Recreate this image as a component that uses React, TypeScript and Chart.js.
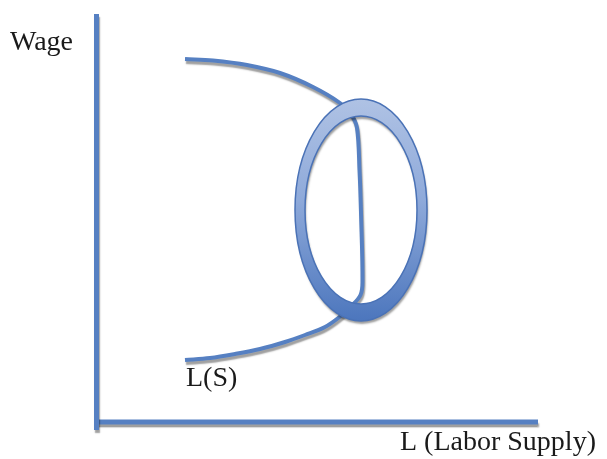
import React, { useEffect, useRef } from "react";
import { Chart, registerables } from "chart.js";

Chart.register(...registerables);

// Data space: origin at the axes' corner, x = labor supply, y = wage (same units as the picture)
const X_RANGE = [-96.5, 510.5];
const Y_RANGE = [-37, 422];

const wageAxis = [
  { x: 0, y: -8 },
  { x: 0, y: 408 },
];
const laborAxis = [
  { x: -2.5, y: 0 },
  { x: 441.5, y: 0 },
];

// backward-bending labor supply curve L(S)
const supplyX = [88.5, 116.5, 150.5, 183.5, 216.5, 243.5, 255, 260.5, 263, 264.5, 266, 264, 255, 243, 228.5, 208.5, 188.5, 163.5, 138.5, 113.5, 88.5];
const supplyY = [363, 361.5, 357, 349, 335, 319, 307, 294, 252, 209, 140, 127, 116, 105, 95, 87, 80, 73, 68, 64, 62];

// highlighted ring: center, outer radii, inner radii
const ringCenter = [264.5, 212];
const ringOuter = [66, 111];
const ringInner = [56, 94];

const labelTexts = ["Wage", "L(S)", "L (Labor Supply)"];
const labelX = [-86.5, 89.5, 303.5];
const labelY = [372, 36, -28];
const labelSizes = [28, 28, 28];

const BLUE = "#5680C2";

const shadowPlugin = {
  id: "shadows",
  beforeDatasetDraw(chart: any) {
    const ctx = chart.ctx;
    ctx.save();
    ctx.shadowColor = "rgba(0,0,0,0.38)";
    ctx.shadowBlur = 1.5;
    ctx.shadowOffsetX = 1;
    ctx.shadowOffsetY = 3;
  },
  afterDatasetDraw(chart: any) {
    chart.ctx.restore();
  },
};

const ringPlugin = {
  id: "ring",
  afterDatasetsDraw(chart: any) {
    const ctx = chart.ctx;
    const xs = chart.scales.x;
    const ys = chart.scales.y;
    const cx = xs.getPixelForValue(ringCenter[0]);
    const cy = ys.getPixelForValue(ringCenter[1]);
    const orx = Math.abs(xs.getPixelForValue(ringCenter[0] + ringOuter[0]) - cx);
    const ory = Math.abs(ys.getPixelForValue(ringCenter[1] + ringOuter[1]) - cy);
    const irx = Math.abs(xs.getPixelForValue(ringCenter[0] + ringInner[0]) - cx);
    const iry = Math.abs(ys.getPixelForValue(ringCenter[1] + ringInner[1]) - cy);
    ctx.save();
    const grad = ctx.createLinearGradient(0, cy - ory, 0, cy + ory);
    grad.addColorStop(0, "#AFC2E4");
    grad.addColorStop(0.45, "#8FAADA");
    grad.addColorStop(1, "#4C76BD");
    ctx.beginPath();
    ctx.ellipse(cx, cy, orx, ory, 0, 0, Math.PI * 2);
    ctx.moveTo(cx + irx, cy);
    ctx.ellipse(cx, cy, irx, iry, 0, 0, Math.PI * 2, true);
    ctx.shadowColor = "rgba(0,0,0,0.38)";
    ctx.shadowBlur = 2;
    ctx.shadowOffsetX = 1;
    ctx.shadowOffsetY = 3;
    ctx.fillStyle = grad;
    ctx.fill("evenodd");
    ctx.shadowColor = "transparent";
    ctx.strokeStyle = "#4A72B6";
    ctx.lineWidth = 1.5;
    ctx.beginPath();
    ctx.ellipse(cx, cy, orx, ory, 0, 0, Math.PI * 2);
    ctx.stroke();
    ctx.beginPath();
    ctx.ellipse(cx, cy, irx, iry, 0, 0, Math.PI * 2);
    ctx.stroke();
    ctx.restore();
  },
};

const labelPlugin = {
  id: "labels",
  afterDraw(chart: any) {
    const ctx = chart.ctx;
    const xs = chart.scales.x;
    const ys = chart.scales.y;
    ctx.save();
    ctx.fillStyle = "#1a1a1a";
    ctx.textBaseline = "alphabetic";
    ctx.textAlign = "left";
    labelTexts.forEach((t, i) => {
      ctx.font = `${labelSizes[i]}px "Liberation Serif", "Times New Roman", serif`;
      ctx.fillText(t, xs.getPixelForValue(labelX[i]), ys.getPixelForValue(labelY[i]));
    });
    ctx.restore();
  },
};

export default function App() {
  const ref = useRef<HTMLCanvasElement>(null);
  useEffect(() => {
    document.body.style.margin = "0";
    const canvas = ref.current!;
    const supply = supplyX.map((x, i) => ({ x, y: supplyY[i] }));
    const chart = new Chart(canvas, {
      type: "line",
      data: {
        datasets: [
          { data: wageAxis, borderColor: BLUE, borderWidth: 5, pointRadius: 0, tension: 0, borderCapStyle: "butt" },
          { data: laborAxis, borderColor: BLUE, borderWidth: 5, pointRadius: 0, tension: 0, borderCapStyle: "butt" },
          { data: supply, borderColor: BLUE, borderWidth: 4, pointRadius: 0, tension: 0.35, borderCapStyle: "butt", borderJoinStyle: "round" },
        ],
      } as any,
      options: {
        responsive: false,
        animation: false,
        events: [],
        layout: { padding: 0 },
        plugins: { legend: { display: false }, tooltip: { enabled: false } },
        scales: {
          x: { type: "linear", min: X_RANGE[0], max: X_RANGE[1], display: false },
          y: { type: "linear", min: Y_RANGE[0], max: Y_RANGE[1], display: false },
        },
      } as any,
      plugins: [shadowPlugin, ringPlugin, labelPlugin],
    });
    return () => chart.destroy();
  }, []);
  return (
    <div style={{ width: 607, height: 459, background: "#fff" }}>
      <canvas ref={ref} width={607} height={459} style={{ display: "block" }} />
    </div>
  );
}
